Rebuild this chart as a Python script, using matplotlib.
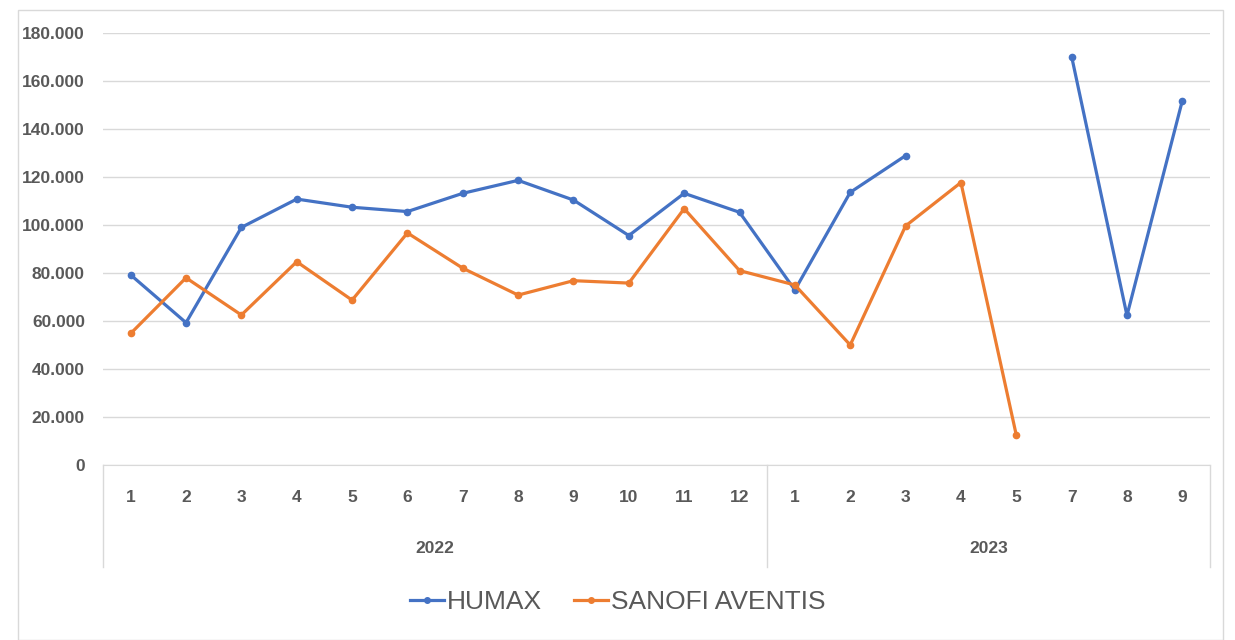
import matplotlib
matplotlib.use('agg')
import matplotlib.pyplot as plt
from matplotlib.ticker import FuncFormatter
from matplotlib.patches import Rectangle
from matplotlib.lines import Line2D
import numpy as np

years = ['2022', '2023']
months_2022 = ['1', '2', '3', '4', '5', '6', '7', '8', '9', '10', '11', '12']
months_2023 = ['1', '2', '3', '4', '5', '7', '8', '9']
humax = [79200, 59300, 99000, 110800, 107400, 105600, 113200, 118600, 110400,
         95600, 113200, 105300,
         72900, 113600, 128900, np.nan, np.nan, 170200, 62300, 151800]
sanofi = [54800, 78000, 62500, 84700, 68700, 96700, 82000, 70800, 76800,
          75800, 106800, 81000,
          75000, 50000, 99600, 117700, 12500, np.nan, np.nan, np.nan]

FONT = ['Liberation Sans', 'DejaVu Sans']
GREY = '#595959'
GRID = '#d9d9d9'

plt.rcParams['font.family'] = FONT
fig = plt.figure(figsize=(12.35, 6.4), dpi=100)
W, H = 1235, 640
ax = fig.add_axes([103 / W, 1 - 465 / H, (1210 - 103) / W, (465 - 33) / H])

labels = months_2022 + months_2023
xs = np.arange(len(labels))
ax.plot(xs, humax, '-o', color='#4472C4', lw=2.3, ms=4.5, label='HUMAX')
ax.plot(xs, sanofi, '-o', color='#ED7D31', lw=2.3, ms=4.5, label='SANOFI AVENTIS')

ax.set_xlim(-0.5, len(labels) - 0.5)
ax.set_ylim(0, 180000)
ax.set_yticks(np.arange(0, 180001, 20000))
ax.yaxis.set_major_formatter(FuncFormatter(
    lambda v, pos: '{:,.0f}'.format(v).replace(',', '.')))
ax.grid(axis='y', color=GRID, lw=1)
ax.set_axisbelow(True)
for s in ['top', 'right', 'left']:
    ax.spines[s].set_visible(False)
ax.spines['bottom'].set_color(GRID)
ax.tick_params(axis='y', length=0, pad=13, labelsize=12.5, labelcolor=GREY)
for t in ax.get_yticklabels():
    t.set_fontweight('bold')
ax.set_xticks([])

# two-level category axis
trans = ax.get_xaxis_transform()
for x, lab in zip(xs, labels):
    ax.text(x, -0.076, lab, transform=trans, ha='center', va='center',
            fontsize=12.5, fontweight='bold', color=GREY)
n1 = len(months_2022)
ax.text((n1 - 1) / 2, -0.194, years[0], transform=trans, ha='center', va='center',
        fontsize=12.5, fontweight='bold', color=GREY)
ax.text(n1 + (len(months_2023) - 1) / 2, -0.194, years[1], transform=trans,
        ha='center', va='center', fontsize=12.5, fontweight='bold', color=GREY)
for xb in [-0.5, n1 - 0.5, len(labels) - 0.5]:
    ax.plot([xb, xb], [0, -0.236], transform=trans, color=GRID, lw=1, clip_on=False)

# chart border
fig.add_artist(Rectangle((18 / W, 0), (1223 - 18) / W, 1 - 10 / H,
                         transform=fig.transFigure, fill=False,
                         edgecolor=GRID, lw=1))

handles = [Line2D([], [], color='#4472C4', lw=2.3, marker='o', ms=4),
           Line2D([], [], color='#ED7D31', lw=2.3, marker='o', ms=4)]
fig.legend(handles, ['HUMAX', 'SANOFI AVENTIS'], loc='center',
           bbox_to_anchor=(0.5, 1 - 602 / H), ncol=2, frameon=False,
           fontsize=19, labelcolor=GREY, handlelength=1.3, handletextpad=0.1,
           columnspacing=1.2)

fig.savefig('out.png', dpi=100)
